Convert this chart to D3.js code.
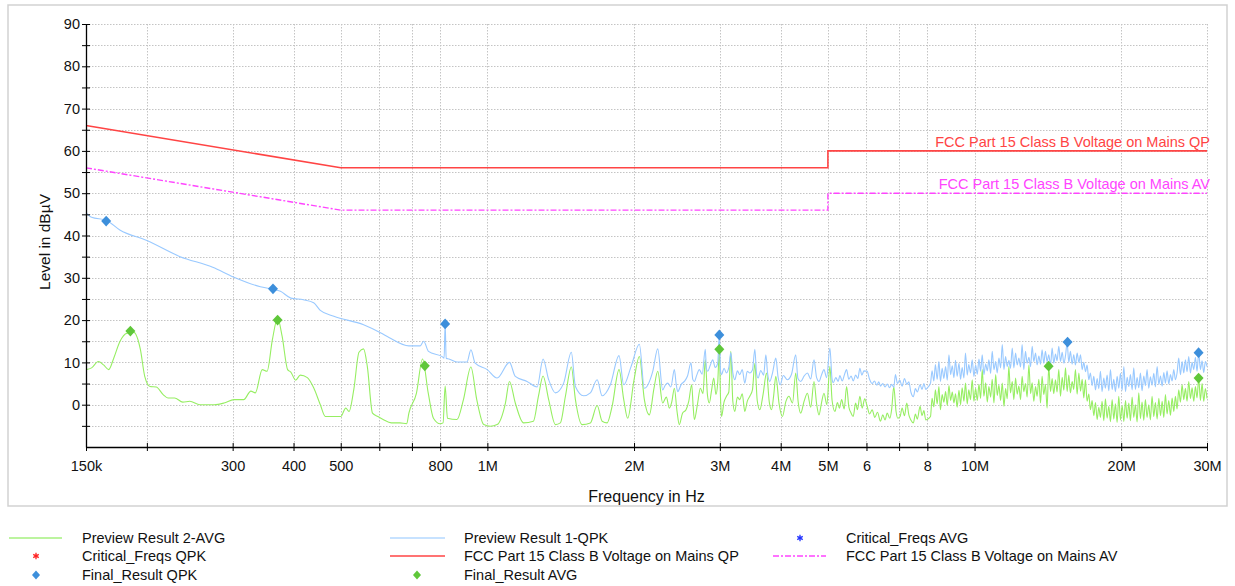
<!DOCTYPE html>
<html><head><meta charset="utf-8">
<script src="https://cdn.jsdelivr.net/npm/d3@7"></script>
<style>body{margin:0;background:#fff;} svg{display:block;font-family:"Liberation Sans",Arial,sans-serif;}</style>
</head><body><svg id="c" width="1235" height="586"></svg>
<script>
// Frequencies in MHz, levels in dBµV
const previewAVG = [[0.150,8.3],[0.154,8.7],[0.159,10.2],[0.163,9.4],[0.167,8.3],[0.171,11.0],[0.176,14.9],[0.182,16.9],[0.188,17.1],[0.194,13.0],[0.198,6.7],[0.203,4.3],[0.209,4.2],[0.216,2.4],[0.221,1.6],[0.228,1.6],[0.237,0.6],[0.245,0.8],[0.257,0.0],[0.275,0.0],[0.288,0.4],[0.302,1.2],[0.316,1.2],[0.327,3.2],[0.334,2.8],[0.345,8.3],[0.353,7.9],[0.362,15.4],[0.371,20.5],[0.379,16.2],[0.389,8.3],[0.395,7.7],[0.404,5.8],[0.413,7.0],[0.427,6.4],[0.440,4.0],[0.454,0.0],[0.465,-2.8],[0.484,-2.8],[0.500,-2.8],[0.512,-0.8],[0.520,-1.6],[0.532,3.7],[0.545,12.4],[0.557,13.2],[0.567,9.0],[0.581,-2.0],[0.596,-2.8],[0.611,-3.5],[0.635,-4.3],[0.661,-4.3],[0.683,-4.5],[0.690,-2.0],[0.715,2.7],[0.736,10.8],[0.756,2.8],[0.775,-3.2],[0.800,-4.5],[0.811,-4.3],[0.819,4.4],[0.828,-3.2],[0.866,-3.5],[0.893,1.2],[0.925,8.9],[0.951,1.2],[0.983,-4.7],[1.014,-5.1],[1.047,-4.7],[1.089,0.4],[1.110,5.5],[1.141,0.4],[1.186,-4.3],[1.243,-3.9],[1.273,2.0],[1.301,6.8],[1.336,1.2],[1.379,-4.7],[1.412,-4.3],[1.446,2.0],[1.487,8.9],[1.516,1.2],[1.564,-4.7],[1.627,-4.3],[1.680,-0.2],[1.720,-3.9],[1.761,-4.3],[1.803,-0.4],[1.863,8.3],[1.905,1.2],[1.941,-3.2],[2.000,5.9],[2.051,11.4],[2.100,1.2],[2.150,-2.4],[2.198,3.9],[2.237,7.9],
[2.290,0.4],[2.330,1.8],[2.363,-0.8],[2.390,0.6],[2.420,3.9],[2.450,-1.5],[2.477,-4.7],[2.515,-2.0],[2.557,-1.2],[2.590,0.8],[2.627,4.7],[2.645,-0.5],[2.660,-3.5],[2.700,0.2],[2.736,3.9],[2.770,2.6],[2.801,10.6],[2.830,2.2],[2.855,0.4],[2.885,3.4],[2.915,6.3],[2.945,2.4],[2.970,5.1],[2.993,13.0],[3.010,1.5],[3.024,-2.8],[3.060,0.6],[3.096,2.0],[3.130,3.0],[3.160,12.6],[3.190,0.8],[3.220,-1.6],[3.260,1.8],[3.297,1.2],[3.335,2.6],[3.376,-1.6],[3.415,0.8],[3.457,2.0],[3.500,3.5],[3.540,9.8],[3.580,1.0],[3.624,-1.2],[3.680,2.4],[3.741,7.5],[3.790,0.6],[3.831,-1.2],[3.870,2.2],[3.909,6.7],[3.970,0.2],[4.032,-2.8],[4.100,0.8],[4.160,2.0],[4.230,0.4],[4.294,7.5],[4.345,0.6],[4.397,-2.0],[4.470,0.9],[4.538,2.7],[4.610,-0.6],[4.682,5.5],[4.740,0.2],[4.794,-2.4],[4.850,0.4],[4.908,2.7],[4.975,0.0],
[5.047,9.1],[5.10,1.0],[5.168,-1.6],[5.23,0.5],[5.28,-0.8],[5.335,1.2],[5.40,-1.0],[5.462,4.3],[5.52,-0.5],[5.58,-2.0],[5.635,-2.8],[5.70,0.4],[5.75,-1.2],[5.816,2.0],[5.88,-0.8],[5.95,1.4],[6.020,-0.4],[6.09,-2.2],[6.164,-1.2],[6.24,-3.0],[6.32,-1.8],[6.410,-3.9],[6.48,-2.4],[6.55,-3.6],[6.617,-2.0],[6.70,-3.2],[6.76,-1.0],[6.826,4.3],[6.90,-1.6],[6.96,-3.2],[7.033,-2.8],[7.10,-0.8],[7.18,-2.6],[7.259,0.4],[7.33,-2.4],[7.40,-3.6],[7.489,-4.3],[7.56,-2.2],[7.63,-3.4],[7.730,-0.4],[7.80,-2.6],[7.87,-1.4],[7.94,-3.6],[7.990,-3.5],
[8.12,-2.8],[8.18,1.5],[8.25,-0.5],[8.31,3.5],[8.38,0.2],[8.45,4.3],[8.51,-1.2],[8.58,2.4],[8.65,0.6],[8.72,3.1],[8.79,-0.2],[8.86,4.5],[8.93,1.0],[9.00,3.0],[9.07,0.4],[9.14,2.6],[9.21,-0.6],[9.29,3.4],[9.36,0.0],[9.43,4.0],[9.51,0.8],[9.58,5.1],[9.66,0.2],[9.73,3.5],[9.81,1.2],[9.89,5.9],[9.97,0.8],
[10.05,3.9],[10.13,1.0],[10.21,4.8],[10.29,1.5],[10.37,8.3],[10.45,2.0],[10.54,5.2],[10.62,0.6],[10.70,4.3],[10.79,1.8],[10.87,6.0],[10.96,0.4],[11.05,7.1],[11.13,2.2],[11.22,4.6],[11.31,1.0],[11.40,5.1],[11.49,-0.4],[11.58,3.8],[11.67,1.4],[11.76,9.0],[11.85,2.8],[11.95,5.5],[12.04,1.2],[12.14,6.3],[12.23,2.5],[12.33,4.4],[12.43,1.2],[12.52,6.7],[12.62,3.1],[12.72,5.0],[12.82,1.8],[12.93,9.4],[13.03,2.6],[13.13,5.2],[13.23,0.8],[13.34,4.3],[13.44,2.0],[13.55,6.0],[13.66,0.4],[13.76,6.7],[13.87,2.4],[13.98,4.8],[14.09,-0.8],[14.20,9.0],[14.32,3.1],[14.43,6.2],[14.54,2.6],[14.66,5.9],[14.77,3.0],[14.89,8.3],[15.01,2.0],[15.13,6.5],[15.25,3.4],[15.37,8.7],[15.49,3.1],[15.61,7.0],[15.73,2.8],[15.86,5.5],[15.98,3.6],[16.11,8.3],[16.24,2.5],[16.37,7.5],[16.50,3.2],[16.63,6.0],[16.76,1.6],[16.89,5.9],[17.02,0.8],
[17.16,2.5],[17.29,-1.2],[17.43,1.0],[17.57,-2.6],[17.71,0.5],[17.85,-3.5],[17.99,-0.6],[18.13,-3.0],[18.27,0.8],[18.42,-3.8],[18.56,1.4],[18.71,-3.2],[18.86,-0.4],[19.01,-4.0],[19.16,1.2],[19.31,-3.4],[19.46,0.2],[19.62,-4.2],[19.77,2.0],[19.93,-3.6],[20.09,-0.2],[20.25,-4.0],[20.41,1.0],[20.57,-3.2],[20.73,0.4],[20.89,-3.8],[21.06,1.8],[21.22,-3.0],[21.39,0.0],[21.56,-4.1],[21.73,2.8],[21.90,-3.3],[22.07,0.6],[22.25,-3.7],[22.42,1.2],[22.60,-3.0],[22.78,0.0],[22.96,-3.6],[23.14,2.0],[23.33,-2.8],[23.51,0.5],[23.70,-3.4],[23.89,1.5],[24.08,-2.6],[24.27,0.8],[24.46,-3.0],[24.65,2.4],[24.84,-2.2],[25.04,1.0],[25.24,-2.5],[25.44,1.6],[25.64,-1.6],[25.84,2.0],[26.04,-1.0],
[26.25,3.5],[26.46,0.6],[26.67,4.7],[26.88,1.2],[27.09,3.9],[27.30,0.8],[27.52,5.5],[27.74,1.5],[27.96,4.0],[28.18,0.8],[28.40,4.3],[28.62,1.6],[28.85,6.3],[29.08,1.0],[29.31,5.0],[29.54,0.8],[29.77,3.8],[30.00,1.5]];

const previewQPK = [[0.150,45.4],[0.154,44.3],[0.165,43.6],[0.176,41.3],[0.200,38.8],[0.234,35.0],[0.273,32.5],[0.301,30.2],[0.342,27.9],[0.363,27.3],[0.376,26.8],[0.395,25.2],[0.419,24.8],[0.440,24.1],[0.454,22.3],[0.484,20.9],[0.557,18.9],[0.606,16.9],[0.628,15.9],[0.690,13.9],[0.728,13.9],[0.740,15.0],[0.757,12.6],[0.809,11.3],[0.815,11.0],[0.819,19.1],[0.823,11.0],[0.834,10.8],[0.866,10.1],[0.908,10.1],[0.925,13.0],[0.944,9.8],[0.999,8.3],[1.047,6.3],[1.110,10.0],[1.141,6.7],[1.206,5.5],[1.265,4.2],[1.301,10.8],[1.336,5.9],[1.379,2.8],[1.434,5.1],[1.487,12.4],[1.516,4.3],[1.576,2.1],[1.627,2.8],[1.680,5.9],[1.720,2.1],[1.788,4.7],[1.863,11.6],[1.905,4.7],[1.972,9.0],[2.051,14.3],[2.100,3.9],[2.185,7.9],[2.237,13.2],
[2.290,3.5],[2.318,4.6],[2.345,5.1],[2.38,4.2],[2.420,8.3],[2.44,5.0],[2.459,3.1],[2.50,4.8],[2.537,5.5],[2.575,6.8],[2.618,9.9],[2.640,6.0],[2.660,5.5],[2.690,7.0],[2.723,8.3],[2.760,7.2],[2.801,13.1],[2.815,8.6],[2.833,7.9],[2.865,9.2],[2.901,10.6],[2.935,8.8],[2.970,9.8],[2.993,16.5],[3.010,8.0],[3.024,7.1],[3.060,8.6],[3.096,7.5],[3.130,8.8],[3.160,12.3],[3.190,7.6],[3.220,5.9],[3.260,8.0],[3.297,7.1],[3.335,8.3],[3.376,5.1],[3.415,7.9],[3.457,7.5],[3.500,8.2],[3.540,13.1],[3.570,7.2],[3.596,6.3],[3.640,8.1],[3.690,7.0],[3.729,11.8],[3.760,7.4],[3.799,5.5],[3.850,7.6],[3.909,11.0],[3.950,6.6],[3.990,4.7],[4.050,6.9],[4.128,5.9],[4.210,7.2],[4.294,11.8],[4.340,6.2],[4.397,5.5],[4.470,6.8],[4.538,7.5],[4.610,6.1],[4.682,10.6],[4.740,6.4],[4.794,5.5],[4.850,7.0],[4.908,8.3],[4.970,6.4],
[5.047,13.4],[5.10,6.0],[5.13,5.2],[5.19,6.4],[5.25,5.5],[5.29,6.9],[5.35,5.6],[5.41,7.2],[5.46,8.3],[5.52,6.0],[5.58,6.8],[5.635,5.6],[5.70,7.0],[5.76,6.2],[5.816,8.6],[5.87,7.0],[5.93,8.0],[6.02,7.9],[6.08,6.2],[6.164,5.0],[6.23,5.6],[6.30,4.6],[6.36,5.4],[6.41,4.4],[6.48,5.0],[6.55,4.2],[6.62,4.9],[6.69,4.0],[6.76,4.8],[6.826,4.1],[6.88,7.1],[6.946,5.0],[7.02,5.8],[7.10,4.4],[7.18,6.2],[7.259,4.8],[7.33,5.4],[7.40,3.0],[7.489,1.9],[7.56,3.8],[7.63,3.0],[7.730,4.7],[7.80,3.6],[7.87,5.0],[7.94,3.6],[7.99,3.9],
[8.12,5.1],[8.18,8.0],[8.25,5.6],[8.31,9.5],[8.38,6.0],[8.45,10.2],[8.51,5.5],[8.58,8.6],[8.65,6.2],[8.72,9.0],[8.79,5.8],[8.86,11.8],[8.93,7.1],[9.00,9.2],[9.07,6.4],[9.14,10.5],[9.21,6.7],[9.29,9.8],[9.36,6.0],[9.43,8.8],[9.51,6.3],[9.58,12.2],[9.66,7.0],[9.73,9.5],[9.81,7.5],[9.89,10.6],[9.97,6.7],
[10.05,9.4],[10.13,7.2],[10.21,10.8],[10.29,7.9],[10.37,11.8],[10.45,7.1],[10.54,9.6],[10.62,8.0],[10.70,10.6],[10.79,7.4],[10.87,12.6],[10.96,8.3],[11.05,10.2],[11.13,7.5],[11.22,11.0],[11.31,8.7],[11.40,14.2],[11.49,8.3],[11.58,11.4],[11.67,9.0],[11.76,10.5],[11.85,8.6],[11.95,13.4],[12.04,8.7],[12.14,12.2],[12.23,9.4],[12.33,11.0],[12.43,8.9],[12.52,14.2],[12.62,8.3],[12.72,12.6],[12.82,9.8],[12.93,11.2],[13.03,9.0],[13.13,13.8],[13.23,10.2],[13.34,12.2],[13.44,9.4],[13.55,11.5],[13.66,9.6],[13.76,13.0],[13.87,9.8],[13.98,12.6],[14.09,10.2],[14.20,11.8],[14.32,9.3],[14.43,13.4],[14.54,9.8],[14.66,12.0],[14.77,10.4],[14.89,13.8],[15.01,10.2],[15.13,12.4],[15.25,9.8],[15.37,11.6],[15.49,14.7],[15.61,10.0],[15.73,12.6],[15.86,9.6],[15.98,11.8],[16.11,9.4],[16.24,12.2],[16.37,10.0],[16.50,11.8],[16.63,8.3],[16.76,10.0],[16.89,7.8],[17.02,9.4],
[17.16,5.9],[17.29,7.5],[17.43,4.5],[17.57,6.7],[17.71,3.5],[17.85,6.2],[17.99,3.8],[18.13,7.9],[18.27,3.1],[18.42,6.3],[18.56,3.9],[18.71,7.0],[18.86,3.3],[19.01,8.3],[19.16,3.6],[19.31,6.0],[19.46,3.1],[19.62,6.7],[19.77,3.9],[19.93,7.4],[20.09,3.4],[20.25,9.0],[20.41,3.1],[20.57,6.5],[20.73,4.3],[20.89,7.1],[21.06,3.5],[21.22,8.7],[21.39,3.6],[21.56,6.4],[21.73,4.0],[21.90,7.5],[22.07,3.3],[22.25,6.8],[22.42,4.5],[22.60,8.3],[22.78,3.9],[22.96,6.6],[23.14,4.6],[23.33,7.4],[23.51,4.2],[23.70,9.0],[23.89,4.8],[24.08,6.8],[24.27,4.4],[24.46,7.6],[24.65,5.1],[24.84,8.0],[25.04,4.9],[25.24,7.1],[25.44,5.6],[25.64,8.3],[25.84,5.9],[26.04,7.5],
[26.25,11.0],[26.46,7.1],[26.67,10.2],[26.88,7.5],[27.09,10.6],[27.30,7.8],[27.52,11.4],[27.74,7.5],[27.96,10.0],[28.18,8.3],[28.40,11.2],[28.62,7.9],[28.85,12.4],[29.08,8.3],[29.31,10.4],[29.54,7.6],[29.77,10.2],[30.00,9.0]];

const limitQP = [[0.15,66],[0.5,56],[5,56],[5,60],[30,60]];
const limitAV = [[0.15,56],[0.5,46],[5,46],[5,50],[30,50]];
const finalQPK = [[0.165,43.4],[0.363,27.4],[0.819,19.1],[2.993,16.5],[15.52,14.8],[28.83,12.3]];
const finalAVG = [[0.185,17.4],[0.371,20.0],[0.744,9.2],[2.993,13.1],[14.19,9.1],[28.83,6.3]];

const xTicks = [0.15,0.2,0.3,0.4,0.5,0.6,0.7,0.8,1,2,3,4,5,6,7,8,10,20,30];
const xTickLabels = ["150k","","300","400","500","","","800","1M","2M","3M","4M","5M","6","","8","10M","20M","30M"];
const yTicks = [-5,0,5,10,15,20,25,30,35,40,45,50,55,60,65,70,75,80,85,90];
const yLabelTicks = [0,10,20,30,40,50,60,70,80,90];

const limitLabels = ["FCC Part 15 Class B Voltage on Mains QP","FCC Part 15 Class B Voltage on Mains AV"];
const legendItems = [
  {label:"Preview Result 2-AVG", type:"line", color:"#a6f07f", col:0, row:0},
  {label:"Critical_Freqs QPK", type:"star", color:"#ff2222", col:0, row:1},
  {label:"Final_Result QPK", type:"diamond", color:"#3d8fdb", col:0, row:2},
  {label:"Preview Result 1-QPK", type:"line", color:"#b5d8ff", col:1, row:0},
  {label:"FCC Part 15 Class B Voltage on Mains QP", type:"line", color:"#ff4444", col:1, row:1},
  {label:"Final_Result AVG", type:"diamond", color:"#5fc73a", col:1, row:2},
  {label:"Critical_Freqs AVG", type:"star", color:"#2233ff", col:2, row:0},
  {label:"FCC Part 15 Class B Voltage on Mains AV", type:"dashdot", color:"#ff44ff", col:2, row:1}
];

const svg = d3.select("#c");
const L = 86, R = 1207, T = 24, B = 447;
const x = d3.scaleLog().domain([0.15,30]).range([L,R]);
const y = d3.scaleLinear().domain([-10,90]).range([B,T]);

// frame
svg.append("rect").attr("x",8).attr("y",5).attr("width",1219).attr("height",501)
  .attr("fill","none").attr("stroke","#d2d2d2").attr("stroke-width",1.5);

// grid
const grid = svg.append("g").attr("stroke","#c4c4c4").attr("stroke-width",1).attr("stroke-dasharray","1.5,1.5");
grid.selectAll("line.v").data(xTicks.slice(1)).join("line")
  .attr("x1",d=>Math.round(x(d))+0.5).attr("x2",d=>Math.round(x(d))+0.5).attr("y1",T).attr("y2",B);
grid.selectAll("line.h").data(yTicks).join("line")
  .attr("y1",d=>Math.round(y(d))+0.5).attr("y2",d=>Math.round(y(d))+0.5).attr("x1",L).attr("x2",R);

const line = d3.line().x(d=>x(d[0])).y(d=>y(d[1]));
const smooth = d3.line().x(d=>x(d[0])).y(d=>y(d[1])).curve(d3.curveMonotoneX);

svg.append("path").datum(previewAVG).attr("d",smooth).attr("fill","none").attr("stroke","#96ee62").attr("stroke-width",1.1);
svg.append("path").datum(previewQPK).attr("d",smooth).attr("fill","none").attr("stroke","#99c9ff").attr("stroke-width",1.1);
svg.append("path").datum(limitQP).attr("d",line).attr("fill","none").attr("stroke","#ff4444").attr("stroke-width",1.6);
svg.append("path").datum(limitAV).attr("d",line).attr("fill","none").attr("stroke","#ff44ff").attr("stroke-width",1.4).attr("stroke-dasharray","6,2,2,2");

// limit labels
svg.append("text").attr("x",R+3).attr("y",y(60)-4).attr("text-anchor","end").attr("font-size","14.5px").attr("fill","#ff4444").text(limitLabels[0]);
svg.append("text").attr("x",R+3).attr("y",y(50)-4).attr("text-anchor","end").attr("font-size","14.5px").attr("fill","#ff44ff").text(limitLabels[1]);

// markers
const diamond = (cx,cy,w,h) => `M${cx},${cy-h}L${cx+w},${cy}L${cx},${cy+h}L${cx-w},${cy}Z`;
svg.append("g").selectAll("path").data(finalQPK).join("path")
  .attr("d",d=>diamond(x(d[0]),y(d[1]),5,5.4)).attr("fill","#3d8fdb");
svg.append("g").selectAll("path").data(finalAVG).join("path")
  .attr("d",d=>diamond(x(d[0]),y(d[1]),5,5.4)).attr("fill","#5fc73a");

// axes
const gy = svg.append("g").attr("transform",`translate(${L},0)`)
  .call(d3.axisLeft(y).tickValues(yTicks).tickSize(4).tickSizeOuter(0).tickPadding(2)
    .tickFormat(d=> yLabelTicks.includes(d) ? String(d) : ""));
gy.selectAll(".tick line").attr("x1",-4).attr("x2",4).attr("stroke","#000");
gy.select(".domain").attr("stroke","#000").attr("stroke-width",1.3);
gy.selectAll("text").attr("font-size","14.5px").attr("fill","#111").attr("font-family","Liberation Sans, Arial, sans-serif");

const gx = svg.append("g").attr("transform",`translate(0,${B})`)
  .call(d3.axisBottom(x).tickValues(xTicks).tickSize(4).tickSizeOuter(0).tickPadding(10)
    .tickFormat((d,i)=>xTickLabels[i]));
gx.selectAll(".tick line").attr("y1",-4).attr("y2",4).attr("stroke","#000");
gx.select(".domain").attr("stroke","#000").attr("stroke-width",1.3);
gx.selectAll("text").attr("font-size","14.5px").attr("fill","#111").attr("font-family","Liberation Sans, Arial, sans-serif");

// titles
svg.append("text").attr("transform",`translate(45,242) rotate(-90)`).attr("text-anchor","middle")
  .attr("dy","0.35em").attr("font-size","15.5px").attr("fill","#111").text("Level in dBµV");
svg.append("text").attr("x",(L+R)/2).attr("y",502).attr("text-anchor","middle")
  .attr("font-size","16px").attr("fill","#111").text("Frequency in Hz");

// legend
const colX = [{s0:9,s1:62,m:36,t:82},{s0:390,s1:445,m:417,t:464},{s0:773,s1:826,m:800,t:846}];
const rowY = [538,556,575];
const lg = svg.append("g");
legendItems.forEach(it=>{
  const c = colX[it.col], yy = rowY[it.row];
  if (it.type==="line" || it.type==="dashdot") {
    lg.append("line").attr("x1",c.s0).attr("x2",c.s1).attr("y1",yy).attr("y2",yy)
      .attr("stroke",it.color).attr("stroke-width",it.type==="dashdot"?1.4:1.6)
      .attr("stroke-dasharray",it.type==="dashdot"?"6,2,2,2":null);
  } else if (it.type==="diamond") {
    lg.append("path").attr("d",diamond(c.m,yy,4,4.5)).attr("fill",it.color);
  } else {
    lg.append("path").attr("transform",`translate(${c.m},${yy})`)
      .attr("d",d3.symbol(d3.symbolAsterisk,28)()).attr("stroke",it.color).attr("stroke-width",1.3).attr("fill","none");
  }
  lg.append("text").attr("x",c.t).attr("y",yy).attr("dy","0.35em").attr("font-size","14.5px").attr("fill","#111").text(it.label);
});
</script>
</body></html>
